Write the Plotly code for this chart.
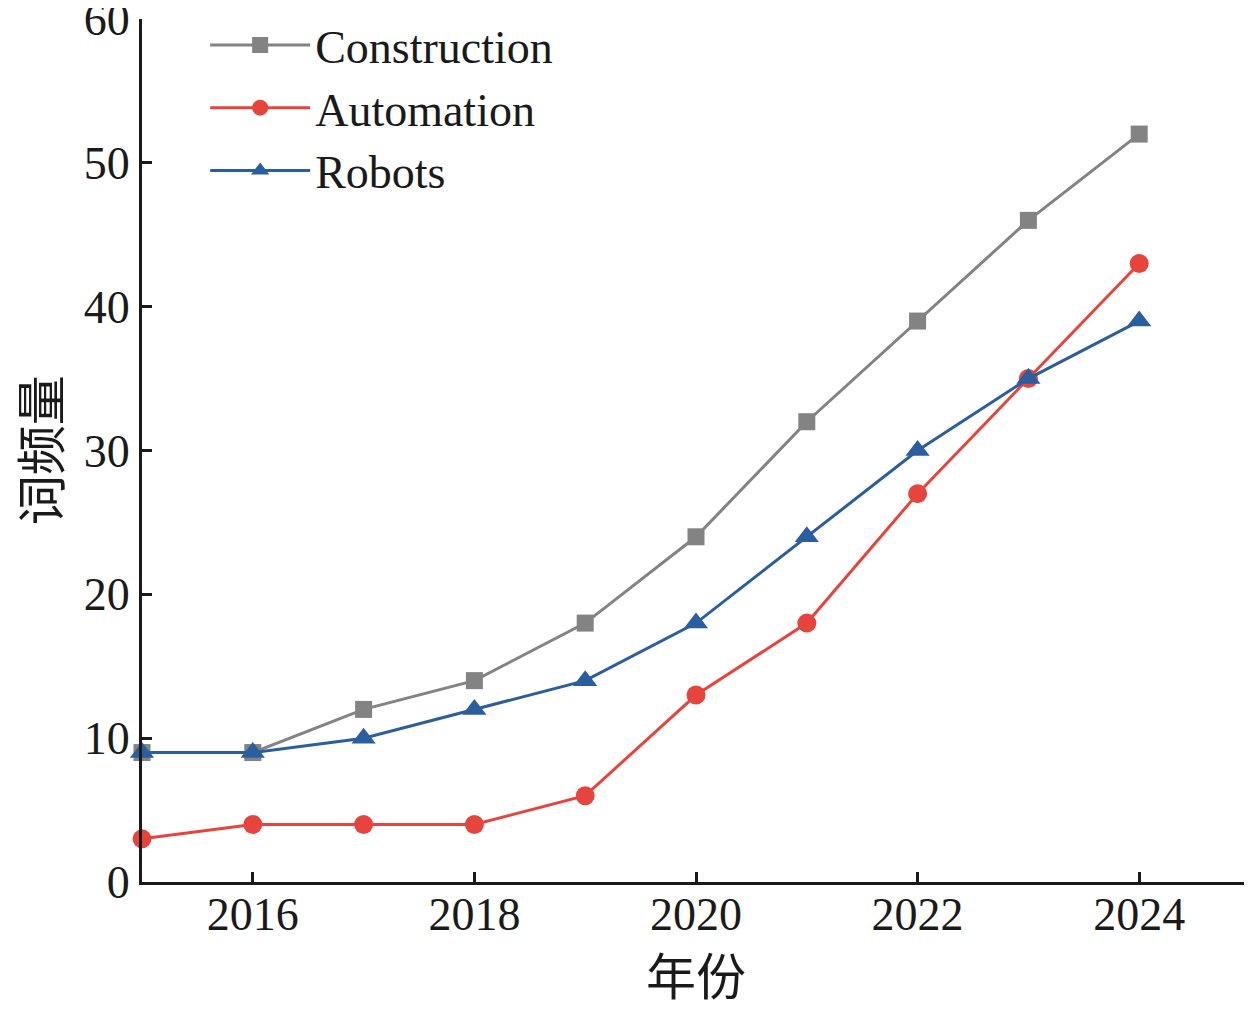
import plotly.graph_objects as go

years = [2015, 2016, 2017, 2018, 2019, 2020, 2021, 2022, 2023, 2024]
construction = [9, 9, 12, 14, 18, 24, 32, 39, 46, 52]
automation = [3, 4, 4, 4, 6, 13, 18, 27, 35, 43]
robots = [9, 9, 10, 12, 14, 18, 24, 30, 35, 39]

x_ticks = [2016, 2018, 2020, 2022, 2024]
y_ticks = [0, 10, 20, 30, 40, 50, 60]

x_title = "年份"
y_title = "词频量"

FONT = "Liberation Serif, Times New Roman, Noto Sans CJK SC, serif"

fig = go.Figure()
fig.add_trace(go.Scatter(x=years, y=construction, name="Construction", mode="lines+markers",
                         line=dict(color="#838383", width=3),
                         marker=dict(symbol="square", size=17, color="#838383"),
                         cliponaxis=False))
fig.add_trace(go.Scatter(x=years, y=automation, name="Automation", mode="lines+markers",
                         line=dict(color="#E6453D", width=3),
                         marker=dict(symbol="circle", size=19, color="#E6453D"),
                         cliponaxis=False))
fig.add_trace(go.Scatter(x=years, y=robots, name="Robots", mode="lines+markers",
                         line=dict(color="#2B5E9E", width=3),
                         marker=dict(symbol="triangle-up", size=21, color="#2B5E9E"),
                         cliponaxis=False))

# page body has an 8px margin; size the figure so the plot lands where the reference has it
fig.update_layout(
    width=1244, height=1001,
    margin=dict(l=134, r=2, t=10, b=127),
    paper_bgcolor="white", plot_bgcolor="white",
    font=dict(family=FONT, size=46, color="#1a1a1a"),
    showlegend=True,
    legend=dict(x=0.057, y=1.011, xanchor="left", yanchor="top",
                bgcolor="rgba(0,0,0,0)", font=dict(size=46, family=FONT),
                tracegroupgap=0, itemwidth=100),
    xaxis=dict(range=[2015, 2025], tickmode="array", tickvals=x_ticks,
               ticks="inside", ticklen=10,
               tickwidth=2.5, tickcolor="#1a1a1a", showline=True, linecolor="#1a1a1a",
               linewidth=3, showgrid=False, zeroline=False, mirror=False, automargin=False,
               title=dict(text=x_title, font=dict(size=50, family="Noto Sans CJK SC"), standoff=26),
               ticklabelstandoff=-10, ticklabeloverflow="allow"),
    yaxis=dict(range=[0, 60], tickmode="array", tickvals=y_ticks,
               ticks="inside", ticklen=10,
               tickwidth=2.5, tickcolor="#1a1a1a", showline=True, linecolor="#1a1a1a",
               linewidth=3, showgrid=False, zeroline=False, automargin=False,
               ticklabelstandoff=0, ticklabeloverflow="allow"),
)

# y-axis title as a rotated annotation, so it can sit closer to the page edge
fig.add_annotation(text=y_title, xref="paper", yref="paper", x=-0.094, y=0.5,
                   xanchor="center", yanchor="middle", textangle=-90, showarrow=False,
                   font=dict(size=50, family="Noto Sans CJK SC", color="#1a1a1a"))

# end tick at right end of x axis
fig.add_shape(type="line", xref="paper", yref="paper", x0=1, x1=1, y0=0, y1=0.012,
              line=dict(color="#1a1a1a", width=2.5))

fig.write_html("out.html")
